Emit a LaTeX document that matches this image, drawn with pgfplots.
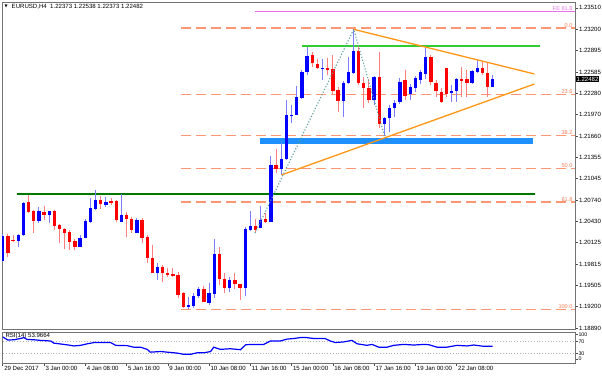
\documentclass[border=0pt]{standalone}
\usepackage{pgfplots}
\pgfplotsset{compat=1.18}
\usepackage{pgfplotstable}
\usepackage{fontspec}
\setmainfont{Liberation Sans}
\newfontfamily\dejavu{DejaVu Sans}
\definecolor{cblue}{RGB}{0,0,255}
\definecolor{wblue}{RGB}{125,125,255}
\definecolor{cred}{RGB}{255,0,0}
\definecolor{wred}{RGB}{255,125,125}
\definecolor{fib}{RGB}{255,150,115}
\definecolor{fibtxt}{RGB}{250,125,85}
\definecolor{fe}{RGB}{235,110,235}
\definecolor{lime}{RGB}{50,205,50}
\definecolor{dgreen}{RGB}{0,120,0}
\definecolor{dodger}{RGB}{30,144,255}
\definecolor{tri}{RGB}{255,150,20}
\definecolor{tealdot}{RGB}{90,160,160}

\pgfplotstableread{
i o h l c
0 1.19864 1.20249 1.19845 1.20220
3 1.20152 1.20249 1.20066 1.20234
4 1.20230 1.20710 1.20220 1.20700
7 1.20432 1.20642 1.20412 1.20585
9 1.20527 1.20585 1.20403 1.20576
15 1.20066 1.20234 1.20061 1.20187
16 1.20187 1.20465 1.20184 1.20436
17 1.20417 1.20764 1.20407 1.20619
18 1.20609 1.20883 1.20602 1.20739
20 1.20667 1.20787 1.20634 1.20715
23 1.20426 1.20821 1.20422 1.20518
26 1.20268 1.20475 1.20259 1.20446
30 1.19691 1.19826 1.19585 1.19777
36 1.19200 1.19345 1.19163 1.19225
37 1.19215 1.19394 1.19177 1.19359
38 1.19348 1.19489 1.19326 1.19451
40 1.19258 1.19547 1.19225 1.19394
41 1.19384 1.20177 1.19322 1.19956
44 1.19474 1.19624 1.19417 1.19585
47 1.19474 1.20354 1.19355 1.20317
48 1.20306 1.20585 1.20299 1.20368
50 1.20340 1.20653 1.20331 1.20451
52 1.20422 1.21371 1.20415 1.21244
54 1.21185 1.21557 1.21100 1.21330
55 1.21330 1.22181 1.21316 1.21965
56 1.21950 1.22109 1.21854 1.21969
57 1.21965 1.22383 1.21958 1.22220
58 1.22214 1.22614 1.22195 1.22589
59 1.22589 1.22950 1.22542 1.22816
62 1.22628 1.22768 1.22469 1.22647
66 1.22171 1.22459 1.21940 1.22431
67 1.22422 1.22805 1.22412 1.22589
68 1.22566 1.23200 1.22556 1.22888
72 1.22181 1.22527 1.22109 1.22508
74 1.21835 1.21940 1.21662 1.21917
75 1.21917 1.22109 1.21724 1.22061
76 1.22061 1.22181 1.21940 1.22133
77 1.22152 1.22498 1.22123 1.22441
79 1.22268 1.22412 1.22181 1.22369
80 1.22354 1.22527 1.22296 1.22498
81 1.22469 1.22614 1.22412 1.22585
82 1.22556 1.22935 1.22484 1.22801
87 1.22282 1.22397 1.22152 1.22311
88 1.22311 1.22498 1.22152 1.22484
91 1.22426 1.22614 1.22412 1.22599
92 1.22585 1.22758 1.22570 1.22642
95 1.22373 1.22538 1.22373 1.22482
}\bull

\pgfplotstableread{
i o h l c
1 1.20220 1.20249 1.19921 1.19979
2 1.20169 1.20234 1.20138 1.20155
5 1.20706 1.20811 1.20552 1.20566
6 1.20580 1.20595 1.20259 1.20441
8 1.20562 1.20653 1.20451 1.20523
10 1.20580 1.20595 1.20306 1.20368
11 1.20383 1.20393 1.20115 1.20317
12 1.20321 1.20335 1.20028 1.20259
13 1.20273 1.20306 1.20018 1.20133
14 1.20148 1.20172 1.20018 1.20066
19 1.20739 1.20797 1.20605 1.20677
21 1.20725 1.20764 1.20667 1.20700
22 1.20725 1.20739 1.20417 1.20451
24 1.20518 1.20570 1.20201 1.20465
25 1.20465 1.20498 1.20259 1.20306
27 1.20451 1.20475 1.20115 1.20187
28 1.20201 1.20234 1.19826 1.19898
29 1.19898 1.20090 1.19691 1.19691
31 1.19777 1.19802 1.19561 1.19682
32 1.19691 1.19763 1.19633 1.19662
33 1.19672 1.19754 1.19633 1.19647
34 1.19658 1.19705 1.19322 1.19369
35 1.19394 1.19417 1.19188 1.19200
39 1.19451 1.19499 1.19272 1.19272
42 1.19956 1.20066 1.19513 1.19596
43 1.19596 1.19682 1.19402 1.19474
45 1.19585 1.19691 1.19451 1.19523
46 1.19523 1.19528 1.19297 1.19474
49 1.20368 1.20461 1.20282 1.20306
51 1.20461 1.20556 1.20403 1.20426
53 1.21244 1.21470 1.21124 1.21185
60 1.22830 1.22878 1.22661 1.22710
61 1.22700 1.22768 1.22624 1.22638
63 1.22647 1.22791 1.22542 1.22614
64 1.22624 1.22830 1.22268 1.22315
65 1.22325 1.22373 1.22012 1.22171
69 1.22888 1.22960 1.22397 1.22431
70 1.22431 1.22508 1.22061 1.22350
71 1.22350 1.22480 1.22133 1.22181
73 1.22508 1.22869 1.21773 1.21835
78 1.22469 1.22614 1.22181 1.22239
83 1.22801 1.22830 1.22397 1.22441
84 1.22426 1.22469 1.22224 1.22311
85 1.22296 1.22354 1.22138 1.22152
86 1.22642 1.22642 1.22224 1.22268
89 1.22484 1.22657 1.22224 1.22462
90 1.22484 1.22614 1.22224 1.22426
93 1.22642 1.22729 1.22542 1.22570
94 1.22570 1.22715 1.22224 1.22369
}\bear

\begin{document}
\begin{tikzpicture}
\useasboundingbox (0,0) rectangle (602bp,-377bp);
\fill[white] (0,0) rectangle (602bp,-377bp);
\pgfplotsset{
  every tick label/.append style={font=\fontsize{6.1}{7}\selectfont, text=black},
  /pgf/number format/assume math mode=true,
}
\begin{axis}[
  at={(2bp,-2bp)}, anchor=north west,
  scale only axis, width=573bp, height=327bp,
  xmin=-0.15, xmax=110.95, ymin=1.18879, ymax=1.23594,
  axis line style={draw=black!55, line width=0.8bp},
  xtick=\empty,
  ytick={1.18890,1.19200,1.19505,1.19815,1.20125,1.20430,1.20740,1.21045,1.21355,1.21660,1.21970,1.22280,1.22585,1.22895,1.23200,1.23510},
  yticklabels={1.18890,1.19200,1.19505,1.19815,1.20125,1.20430,1.20740,1.21045,1.21355,1.21660,1.21970,1.22280,1.22585,1.22895,1.23200,1.23510},
  ytick pos=right, yticklabel pos=right,
  tick align=outside, major tick length=3bp,
  tick style={draw=black!70, line width=0.6bp},
  yticklabel style={anchor=west, inner sep=0.8bp},
  clip mode=individual,
]
% fibonacci retracement levels
\addplot[fib, line width=1.2bp, dash pattern=on 10bp off 5bp, forget plot] coordinates {(34.65,1.23220) (111,1.23220)};
\addplot[fib, line width=1.2bp, dash pattern=on 10bp off 5bp, forget plot] coordinates {(34.65,1.22262) (111,1.22262)};
\addplot[fib, line width=1.2bp, dash pattern=on 10bp off 5bp, forget plot] coordinates {(34.65,1.21669) (111,1.21669)};
\addplot[fib, line width=1.2bp, dash pattern=on 10bp off 5bp, forget plot] coordinates {(34.65,1.21190) (111,1.21190)};
\addplot[fib, line width=1.2bp, dash pattern=on 10bp off 5bp, forget plot] coordinates {(34.65,1.20711) (111,1.20711)};
\addplot[fib, line width=1.2bp, dash pattern=on 10bp off 5bp, forget plot] coordinates {(34.65,1.19160) (111,1.19160)};
% FE line
\addplot[fe, line width=1.1bp, forget plot] coordinates {(49,1.23454) (111,1.23454)};
% support / resistance
\addplot[dgreen, line width=2.6bp, forget plot] coordinates {(2.8,1.20826) (103.1,1.20826)};
\addplot[lime, line width=2bp, forget plot] coordinates {(58,1.22964) (104.1,1.22964)};
\addplot[dodger, line width=6bp, forget plot] coordinates {(49.96,1.21597) (102.9,1.21597)};
% candles: wicks
\addplot[draw=none, no markers, forget plot, error bars/.cd, y dir=minus, y explicit, error mark=none,
  error bar style={draw=wblue, line width=1bp}]
  table[x=i, y=h, y error minus expr=\thisrow{h}-\thisrow{l}] {\bull};
\addplot[draw=none, no markers, forget plot, error bars/.cd, y dir=minus, y explicit, error mark=none,
  error bar style={draw=wred, line width=1bp}]
  table[x=i, y=h, y error minus expr=\thisrow{h}-\thisrow{l}] {\bear};
% candles: bodies
\addplot[draw=none, no markers, forget plot, error bars/.cd, y dir=minus, y explicit, error mark=none,
  error bar style={draw=cblue, line width=3.3bp}]
  table[x=i, y=c, y error minus expr={max(\thisrow{c}-\thisrow{o},0.00013)}] {\bull};
\addplot[draw=none, no markers, forget plot, error bars/.cd, y dir=minus, y explicit, error mark=none,
  error bar style={draw=cred, line width=3.3bp}]
  table[x=i, y=o, y error minus expr={max(\thisrow{o}-\thisrow{c},0.00013)}] {\bear};
% triangle
\addplot[tri, line width=1.3bp, forget plot] coordinates {(68.04,1.23200) (103.1,1.22556)};
\addplot[tri, line width=1.3bp, forget plot] coordinates {(54.03,1.21100) (103.1,1.22412)};
% fibo tool dotted legs
\addplot[tealdot, line width=1.1bp, dash pattern=on 1.1bp off 1.9bp, forget plot] coordinates {(48.9,1.20263) (68.04,1.23200) (74.05,1.21652)};
% labels of levels
\node[fibtxt, anchor=south east, inner sep=0.5bp, font=\fontsize{5.6}{6}\selectfont] at (axis cs:110.6,1.23220) {0.0};
\node[fibtxt, anchor=south east, inner sep=0.5bp, font=\fontsize{5.6}{6}\selectfont] at (axis cs:110.6,1.22262) {23.6};
\node[fibtxt, anchor=south east, inner sep=0.5bp, font=\fontsize{5.6}{6}\selectfont] at (axis cs:110.6,1.21669) {38.2};
\node[fibtxt, anchor=south east, inner sep=0.5bp, font=\fontsize{5.6}{6}\selectfont] at (axis cs:110.6,1.21190) {50.0};
\node[fibtxt, anchor=south east, inner sep=0.5bp, font=\fontsize{5.6}{6}\selectfont] at (axis cs:110.6,1.20711) {61.8};
\node[fibtxt, anchor=south east, inner sep=0.5bp, font=\fontsize{5.6}{6}\selectfont] at (axis cs:110.6,1.19160) {100.0};
\node[fe, anchor=south east, inner sep=0.5bp, font=\fontsize{5.6}{6}\selectfont] at (axis cs:110.6,1.23454) {FE 61.8};
% current price box
\node[fill=black, text=white, anchor=west, inner sep=0.8bp, font=\fontsize{6.1}{7}\selectfont] at (axis cs:111.05,1.22482) {1.22482};
\end{axis}

\begin{axis}[
  at={(2bp,-332bp)}, anchor=north west,
  scale only axis, width=573bp, height=31bp,
  xmin=-0.15, xmax=110.95, ymin=0, ymax=100,
  axis line style={draw=black!55, line width=0.8bp},
  xtick={0,8,...,88},
  xticklabels={29 Dec 2017,3 Jan 00:00,4 Jan 08:00,5 Jan 16:00,9 Jan 00:00,10 Jan 08:00,11 Jan 16:00,15 Jan 00:00,16 Jan 08:00,17 Jan 16:00,19 Jan 00:00,22 Jan 08:00},
  xtick pos=bottom,
  xticklabel style={anchor=north west, inner sep=1bp, xshift=0.3bp},
  ytick={13,30,70,91}, yticklabels={0,30,70,100},
  ytick pos=right, yticklabel pos=right,
  yticklabel style={anchor=west, inner sep=0.8bp, font=\fontsize{5.3}{6}\selectfont},
  tick align=outside, major tick length=2.5bp,
  tick style={draw=black!70, line width=0.6bp},
  clip mode=individual,
]
\addplot[black!30, dotted, line width=0.8bp, forget plot] coordinates {(-1,70) (112,70)};
\addplot[black!30, dotted, line width=0.8bp, forget plot] coordinates {(-1,30) (112,30)};
\addplot[cblue, line width=1.2bp] coordinates {
(0,84) (1,74) (2.2,75) (3.4,79) (4.1,82) (4.7,76) (6,75) (7.3,73) (9.3,71) (9.9,64) (11.9,60) (13.1,57) (13.8,55) (15.1,57) (16.4,62) (17.7,66) (20.9,66) (21.9,57) (24.1,56) (25.4,51) (26.7,51) (28,44) (28.6,35) (30.6,37) (31.9,35) (33.8,32) (35.1,28) (36.4,28) (37.7,33) (39,33) (40.3,37) (40.9,51) (42.2,44) (44.1,46) (46.1,43) (47.1,59) (48.7,60) (50.6,60) (51.9,71) (53.8,71) (55.1,77) (56.4,79) (57.7,82) (58.9,82) (60.3,79) (62.5,79) (63.5,71) (64.5,66) (66.1,68) (67.7,73) (68.7,62) (70.6,57) (71.6,60) (72.9,51) (74.5,51) (75.8,57) (77.7,60) (79.7,58) (81.6,60) (82.6,59) (84.2,51) (86.1,51) (88.1,57) (90,55) (91.3,58) (93.2,54) (95,54)
};
\node[anchor=north west, inner sep=0.5bp, font=\fontsize{6.1}{7}\selectfont] at (axis cs:0.4,98) {RSI(14) 53.9664};
\end{axis}

\node[anchor=west, inner sep=0pt, font=\fontsize{6.1}{7}\selectfont] at (11.5bp,-6.5bp) {EURUSD,H4 \ 1.22373 1.22538 1.22373 1.22482};
\node[anchor=west, inner sep=0pt, font=\fontsize{4}{5}\selectfont] at (4.5bp,-6.5bp) {\dejavu ▼};
\end{tikzpicture}
\end{document}
